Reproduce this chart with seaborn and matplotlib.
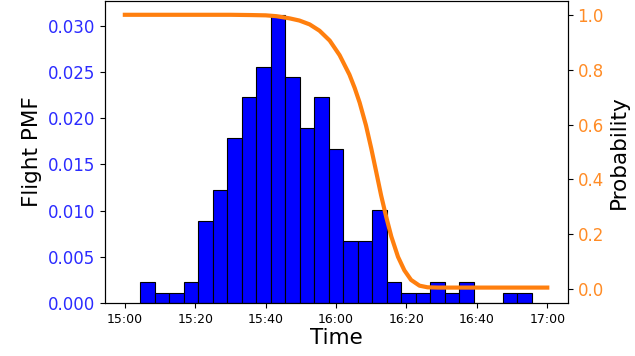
import numpy as np
import pandas as pd
import seaborn as sns
from matplotlib import pyplot as plt
from matplotlib.ticker import FuncFormatter, MultipleLocator

# histogram: flight counts per bin, time in minutes after 15:00
bin_start = 4.35
bin_width = 4.12
counts = [2, 1, 1, 2, 8, 11, 16, 20, 23, 28, 22, 17, 20, 15,
          6, 6, 9, 2, 1, 1, 2, 1, 2, 0, 0, 1, 1]

# probability curve (minutes after 15:00)
curve_t = [0, 10, 20, 30, 36, 40, 43, 46.8, 49.6, 52.5, 55.3, 58.2, 61.0,
           63.8, 65.3, 66.7, 68.5, 70.0, 71.4, 72.8, 74.2, 75.7, 77.6, 79.4,
           81.3, 83.7, 86.0, 89, 100, 110, 120]
curve_p = [1.0, 1.0, 1.0, 1.0, 0.999, 0.998, 0.995, 0.987, 0.979, 0.965,
           0.942, 0.906, 0.853, 0.782, 0.733, 0.680, 0.597, 0.513, 0.428,
           0.342, 0.266, 0.192, 0.118, 0.069, 0.034, 0.013, 0.007, 0.006,
           0.006, 0.006, 0.006]

edges = bin_start + bin_width * np.arange(len(counts) + 1)
hist_df = pd.DataFrame({"t": (edges[:-1] + edges[1:]) / 2, "n": counts})

fig, ax = plt.subplots(figsize=(6.35, 3.56), dpi=100)
fig.subplots_adjust(left=0.165, right=0.894, top=0.997, bottom=0.149)

sns.histplot(data=hist_df, x="t", weights="n", bins=list(edges), stat="density",
             color="blue", edgecolor="black", alpha=1, linewidth=0.8, ax=ax)
ax.set_ylim(0, 0.0327)
ax.set_xlim(-5.7, 125.8)
ax.set_ylabel("Flight PMF", fontsize=15.5)
ax.set_xlabel("Time", fontsize=15.5, labelpad=2)
ax.tick_params(axis="y", labelcolor="#2b2bff", labelsize=12)
ax.tick_params(axis="x", labelsize=9)
ax.xaxis.set_major_locator(MultipleLocator(20))
ax.xaxis.set_major_formatter(FuncFormatter(
    lambda v, pos: f"{15 + int(v) // 60}:{int(v) % 60:02d}"))

ax2 = ax.twinx()
sns.lineplot(x=curve_t, y=curve_p, color="tab:orange", linewidth=3, ax=ax2)
ax2.set_ylim(-0.05, 1.05)
ax2.set_ylabel("Probability", fontsize=15.5)
ax2.tick_params(axis="y", labelcolor="#ff8c26", labelsize=12)

plt.savefig("out.png", dpi=100)
